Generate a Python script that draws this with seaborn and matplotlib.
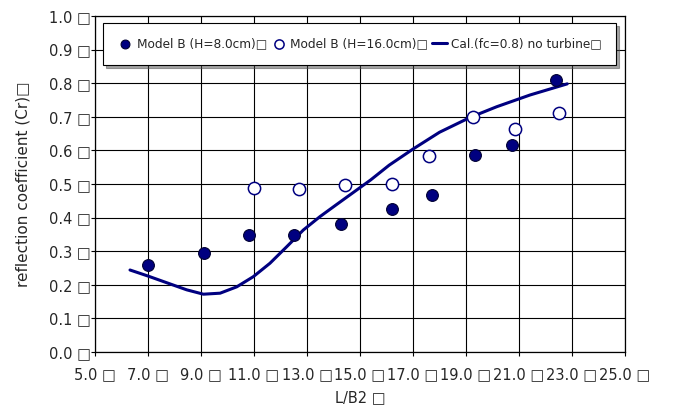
import matplotlib
matplotlib.use("Agg")
import matplotlib.pyplot as plt
import seaborn as sns
import pandas as pd

# Measured reflection coefficients, Model B
h8_x = [7.0, 9.1, 10.8, 12.5, 14.3, 16.2, 17.7, 19.35, 20.75, 22.4]
h8_cr = [0.259, 0.295, 0.348, 0.348, 0.381, 0.426, 0.467, 0.586, 0.616, 0.810]

h16_x = [11.0, 12.7, 14.45, 16.2, 17.6, 19.25, 20.85, 22.5]
h16_cr = [0.487, 0.485, 0.497, 0.499, 0.584, 0.700, 0.663, 0.712]

# Calculated curve (fc=0.8, no turbine)
cal_x = [6.32, 7.0, 7.96, 8.46, 9.09, 9.72, 10.35, 10.97, 11.6, 12.23, 12.86,
         13.49, 14.1, 14.75, 15.4, 16.1, 17.0, 18.0, 19.15, 20.16, 21.42, 22.82]
cal_cr = [0.244, 0.226, 0.199, 0.185, 0.172, 0.175, 0.194, 0.224, 0.264, 0.313, 0.363,
          0.403, 0.438, 0.475, 0.512, 0.556, 0.604, 0.654, 0.698, 0.730, 0.765, 0.798]

x_ticks = [5.0, 7.0, 9.0, 11.0, 13.0, 15.0, 17.0, 19.0, 21.0, 23.0, 25.0]
y_ticks = [0.0, 0.1, 0.2, 0.3, 0.4, 0.5, 0.6, 0.7, 0.8, 0.9, 1.0]

BOX = "\u25a1"
NAVY = "#000080"

sns.set_theme(style="white")
plt.rcParams["font.family"] = ["DejaVu Sans"]

fig = plt.figure(figsize=(6.73, 4.05), dpi=100)
ax = fig.add_axes([0.1412, 0.1309, 0.7875, 0.8296])

df8 = pd.DataFrame({"x": h8_x, "cr": h8_cr})
df16 = pd.DataFrame({"x": h16_x, "cr": h16_cr})
dfc = pd.DataFrame({"x": cal_x, "cr": cal_cr})

sns.lineplot(data=dfc, x="x", y="cr", ax=ax, color=NAVY, linewidth=2.2,
             sort=False, label=f"Cal.(fc=0.8) no turbine{BOX}", zorder=3)
sns.scatterplot(data=df8, x="x", y="cr", ax=ax, s=72, color=NAVY,
                edgecolor="#000033", linewidth=0.8,
                label=f"Model B (H=8.0cm){BOX}", zorder=4)
sns.scatterplot(data=df16, x="x", y="cr", ax=ax, s=78, facecolor="white",
                edgecolor=NAVY, linewidth=1.1,
                label=f"Model B (H=16.0cm){BOX}", zorder=4)

ax.set_xlim(5, 25)
ax.set_ylim(0, 1)
ax.set_xticks(x_ticks)
ax.set_yticks(y_ticks)
ax.set_xticklabels([f"{v:.1f} {BOX}" for v in x_ticks], fontsize=10.5)
ax.set_yticklabels([f"{v:.1f} {BOX}" for v in y_ticks], fontsize=10.5)
ax.tick_params(axis="y", direction="out", length=3, width=0.8, color="black", pad=0, left=True)
ax.tick_params(axis="x", direction="out", length=3, width=0.8, color="black", pad=8, bottom=True)

ax.grid(True, color="black", linewidth=0.8)
for s in ax.spines.values():
    s.set_visible(True)
    s.set_color("black")
    s.set_linewidth(0.9)

ax.set_xlabel(f"L/B2 {BOX}", fontsize=10.5, labelpad=6)
ax.set_ylabel(f"reflection coefficient (Cr){BOX}", fontsize=11, labelpad=13)

handles, labels = ax.get_legend_handles_labels()
order = [1, 2, 0]
leg = ax.legend([handles[i] for i in order], [labels[i] for i in order],
                ncol=3, loc="upper left", bbox_to_anchor=(0.015, 0.979),
                borderaxespad=0,
                fontsize=8.7, frameon=True, fancybox=False, shadow=True,
                edgecolor="black", framealpha=1, borderpad=1.2,
                handlelength=1.3, handletextpad=0.3, columnspacing=0.3,
                markerscale=0.75)
leg.get_frame().set_linewidth(0.8)

fig.savefig("out.png", dpi=100)
